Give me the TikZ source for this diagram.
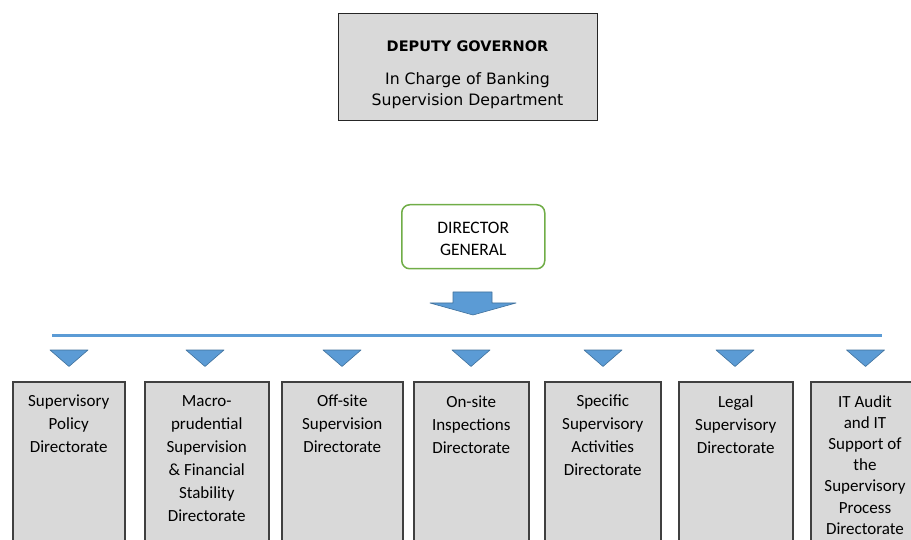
\documentclass[tikz,border=0pt]{standalone}
\usepackage{fontspec}
\setmainfont{Carlito}
\newfontfamily\verd{DejaVu Sans}
\usetikzlibrary{calc}
\definecolor{boxgray}{RGB}{217,217,217}
\definecolor{edgegray}{RGB}{64,64,64}
\definecolor{arrowblue}{RGB}{91,155,213}
\definecolor{arrowedge}{RGB}{65,113,156}
\definecolor{greenedge}{RGB}{112,173,71}
\tikzset{
  dirbox/.style={draw=edgegray, line width=1.5pt, fill=boxgray, inner sep=0pt, anchor=north west},
  dirtext/.style={anchor=north, align=center, inner sep=0pt, font=\fontsize{17}{23}\selectfont},
  tri/.style={fill=arrowblue, draw=arrowedge, line width=0.6pt, line join=round},
}
\begin{document}
\begin{tikzpicture}[x=1pt,y=-1pt]
\useasboundingbox (0,0) rectangle (911,540);
\clip (0,0) rectangle (911,540);
% top box
\node[draw=black!85, line width=1.3pt, fill=boxgray, minimum width=259pt, minimum height=107pt, anchor=north west, inner sep=0pt] (dg) at (338,13) {};
\node[anchor=base, inner sep=0pt, font=\verd\bfseries\fontsize{14.5}{17}\selectfont] (dgt) at (467.5,52) {DEPUTY GOVERNOR};
\node[anchor=north, align=center, inner sep=0pt, font=\verd\fontsize{15.7}{21}\selectfont] (dgs) at (467.5,72) {In Charge of Banking\\Supervision Department};
% director general
\node[draw=greenedge, line width=1.5pt, fill=white, rounded corners=8pt, minimum width=143pt, minimum height=64pt, anchor=north west, inner sep=0pt] (gen) at (401,204) {};
\node[anchor=center, align=center, inner sep=0pt, font=\fontsize{17.5}{22}\selectfont] (gent) at ($(gen.center)+(0,2)$) {DIRECTOR\\GENERAL};
% block arrow
\coordinate (ba) at (473,292);
\draw[tri] ($(ba)+(-20,0)$) -- ($(ba)+(19,0)$) -- ($(ba)+(19,11)$) -- ($(ba)+(43,11)$) -- ($(ba)+(0,23)$) -- ($(ba)+(-43,11)$) -- ($(ba)+(-20,11)$) -- cycle;
% horizontal line
\coordinate (hl) at (52,335.5);
\coordinate (hr) at (882,335.5);
\draw[arrowblue, line width=3pt] (hl) -- (hr);
% directorate boxes
\foreach \n/\xa/\xb in {1/12/124,2/144/268,3/281/402,4/413/528,5/544/660,6/678/792,7/810/922}{
  \node[dirbox, minimum width={\xb-\xa}, minimum height=200pt] (b\n) at (\xa,381) {};
}
\foreach \n/\tx in {1/69,2/205,3/342,4/471,5/603,6/735,7/865.5}{
  \coordinate (t\n) at (\tx,350);
  \draw[tri] ($(t\n)+(-19,0)$) -- ($(t\n)+(19,0)$) -- ($(t\n)+(0,16.5)$) -- cycle;
}
\node[dirtext] (x1) at ($(b1.north)+(0,14)$) {Supervisory\\Policy\\Directorate};
\node[dirtext] (x2) at ($(b2.north)+(0,14)$) {Macro-\\prudential\\Supervision\\\& Financial\\Stability\\Directorate};
\node[dirtext] (x3) at ($(b3.north)+(0,14)$) {Off-site\\Supervision\\Directorate};
\node[dirtext] (x4) at ($(b4.north)+(0,15)$) {On-site\\Inspections\\Directorate};
\node[dirtext] (x5) at ($(b5.north)+(0,14)$) {Specific\\Supervisory\\Activities\\Directorate};
\node[dirtext] (x6) at ($(b6.north)+(0,14)$) {Legal\\Supervisory\\Directorate};
\node[dirtext, font=\fontsize{17}{21.2}\selectfont] (x7) at (865,395) {IT Audit\\and IT\\Support of\\the\\Supervisory\\Process\\Directorate};
\end{tikzpicture}
\end{document}
